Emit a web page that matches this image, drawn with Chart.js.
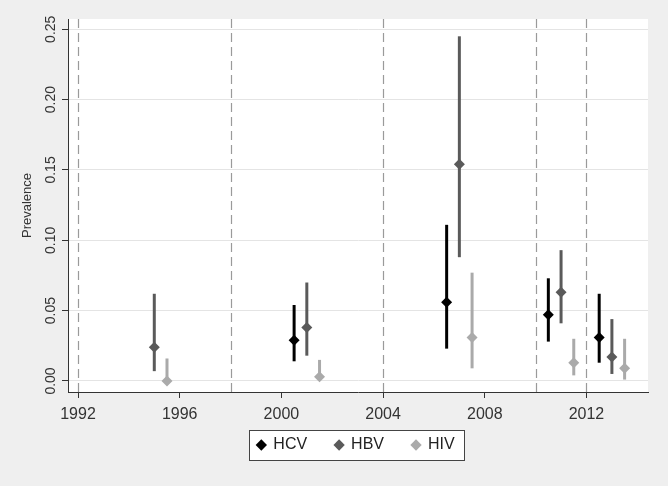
<!DOCTYPE html>
<html><head><meta charset="utf-8">
<script src="https://cdn.jsdelivr.net/npm/chart.js@4"></script>
<style>html,body{margin:0;padding:0;background:#efefef;}canvas{display:block}</style>
</head><body>
<canvas id="c" width="668" height="486"></canvas>
<script>
// ---- data ----
const seriesNames = ['HCV', 'HBV', 'HIV'];
const seriesColors = ['#000000', '#5a5a5a', '#aaaaaa'];

const hcvYears = [2000.5, 2006.5, 2010.5, 2012.5];
const hcvPrev  = [0.029, 0.056, 0.047, 0.031];
const hcvLow   = [0.014, 0.023, 0.028, 0.013];
const hcvHigh  = [0.054, 0.111, 0.073, 0.062];

const hbvYears = [1995, 2001, 2007, 2011, 2013];
const hbvPrev  = [0.024, 0.038, 0.154, 0.063, 0.017];
const hbvLow   = [0.007, 0.018, 0.088, 0.041, 0.005];
const hbvHigh  = [0.062, 0.070, 0.245, 0.093, 0.044];

const hivYears = [1995.5, 2001.5, 2007.5, 2011.5, 2013.5];
const hivPrev  = [0.000, 0.003, 0.031, 0.013, 0.009];
const hivLow   = [0.000, 0.000, 0.009, 0.004, 0.001];
const hivHigh  = [0.016, 0.015, 0.077, 0.030, 0.030];

const xTicks = [1992, 1996, 2000, 2004, 2008, 2012];
const yTicks = [0, 0.05, 0.10, 0.15, 0.20, 0.25];
const refYears = [1992, 1998, 2004, 2010, 2012];
const yTitle = 'Prevalence';

// ---- build datasets ----
const series = [
  {years: hcvYears, prev: hcvPrev, low: hcvLow, high: hcvHigh},
  {years: hbvYears, prev: hbvPrev, low: hbvLow, high: hbvHigh},
  {years: hivYears, prev: hivPrev, low: hivLow, high: hivHigh}
];
const pointSets = series.map((s, i) => ({
  type: 'scatter',
  label: seriesNames[i],
  data: s.years.map((x, j) => ({x: x, y: s.prev[j]})),
  pointStyle: 'rectRot',
  pointRadius: 5.5,
  backgroundColor: seriesColors[i],
  borderColor: seriesColors[i],
  borderWidth: 0,
  showLine: false
}));
const barSets = series.map((s, i) => ({
  type: 'bar',
  label: seriesNames[i] + ' CI',
  data: s.years.map((x, j) => ({x: x, y: [s.low[j], s.high[j]]})),
  backgroundColor: seriesColors[i],
  borderWidth: 0,
  grouped: false,
  maxBarThickness: 3
}));

const decor = {
  id: 'decor',
  beforeDraw(chart) {
    const {ctx, chartArea: a, legend} = chart;
    ctx.save();
    ctx.fillStyle = '#efefef';
    ctx.fillRect(0, 0, chart.width, chart.height);
    ctx.fillStyle = '#ffffff';
    ctx.fillRect(a.left, a.top, a.right - a.left, a.bottom - a.top);
    const hb = legend && legend.legendHitBoxes;
    if (hb && hb.length) {
      const last = hb[hb.length - 1];
      const l = Math.round(hb[0].left - 8), r = Math.round(last.left + last.width + 9);
      const cy = hb[0].top + hb[0].height / 2;
      const t = Math.round(cy - 15);
      ctx.fillStyle = '#ffffff';
      ctx.fillRect(l, t, r - l, 30);
      ctx.strokeStyle = '#444444';
      ctx.lineWidth = 1;
      ctx.strokeRect(l + 0.5, t + 0.5, r - l, 30);
    }
    ctx.restore();
  },
  beforeDatasetsDraw(chart) {
    const {ctx, chartArea: a, scales} = chart;
    ctx.save();
    ctx.strokeStyle = '#9a9a9a';
    ctx.lineWidth = 1.2;
    ctx.setLineDash([9, 5]);
    refYears.forEach(v => {
      const px = Math.round(scales.x.getPixelForValue(v)) + 0.5;
      ctx.beginPath();
      ctx.moveTo(px, a.top);
      ctx.lineTo(px, a.bottom);
      ctx.stroke();
    });
    ctx.restore();
  }
};

const FONT = 'Liberation Sans, Arial, sans-serif';

new Chart(document.getElementById('c'), {
  type: 'scatter',
  data: {datasets: pointSets.concat(barSets)},
  options: {
    responsive: false,
    animation: false,
    events: [],
    devicePixelRatio: 1,
    layout: {padding: {top: 19, left: 64, right: 20, bottom: 23}},
    plugins: {
      tooltip: {enabled: false},
      legend: {
        position: 'bottom',
        labels: {
          usePointStyle: true,
          boxWidth: 8,
          boxHeight: 8,
          padding: 28,
          color: '#222222',
          font: {family: FONT, size: 16},
          filter: item => item.datasetIndex < 3
        }
      }
    },
    scales: {
      x: {
        type: 'linear',
        min: 1991.606,
        max: 2014.42,
        offset: false,
        afterBuildTicks: s => { s.ticks = xTicks.map(v => ({value: v})); },
        afterFit: s => { s.height = 17; },
        grid: {drawOnChartArea: false, drawTicks: true, tickLength: 6, tickColor: '#333333', offset: false},
        border: {display: true, color: '#333333', width: 1},
        ticks: {font: {family: FONT, size: 16}, color: '#333333', mirror: true, padding: -32.5, maxRotation: 0, minRotation: 0, autoSkip: false, callback: v => String(v)}
      },
      y: {
        type: 'linear',
        min: -0.00782,
        max: 0.2573,
        afterBuildTicks: s => { s.ticks = yTicks.map(v => ({value: v})); },
        afterFit: s => { s.width = 4; },
        grid: {color: '#e4e4e4', lineWidth: 1, drawTicks: true, tickLength: 6, tickColor: '#333333'},
        border: {display: true, color: '#333333', width: 1},
        ticks: {font: {family: FONT, size: 14}, color: '#333333', mirror: true, padding: -30.5, minRotation: 90, maxRotation: 90, crossAlign: 'center', autoSkip: false, callback: v => Number(v).toFixed(2)},
        title: {display: true, text: yTitle, font: {family: FONT, size: 13}, color: '#333333', padding: {top: -44.3, bottom: 0}}
      }
    }
  },
  plugins: [decor]
});
</script>
</body></html>
